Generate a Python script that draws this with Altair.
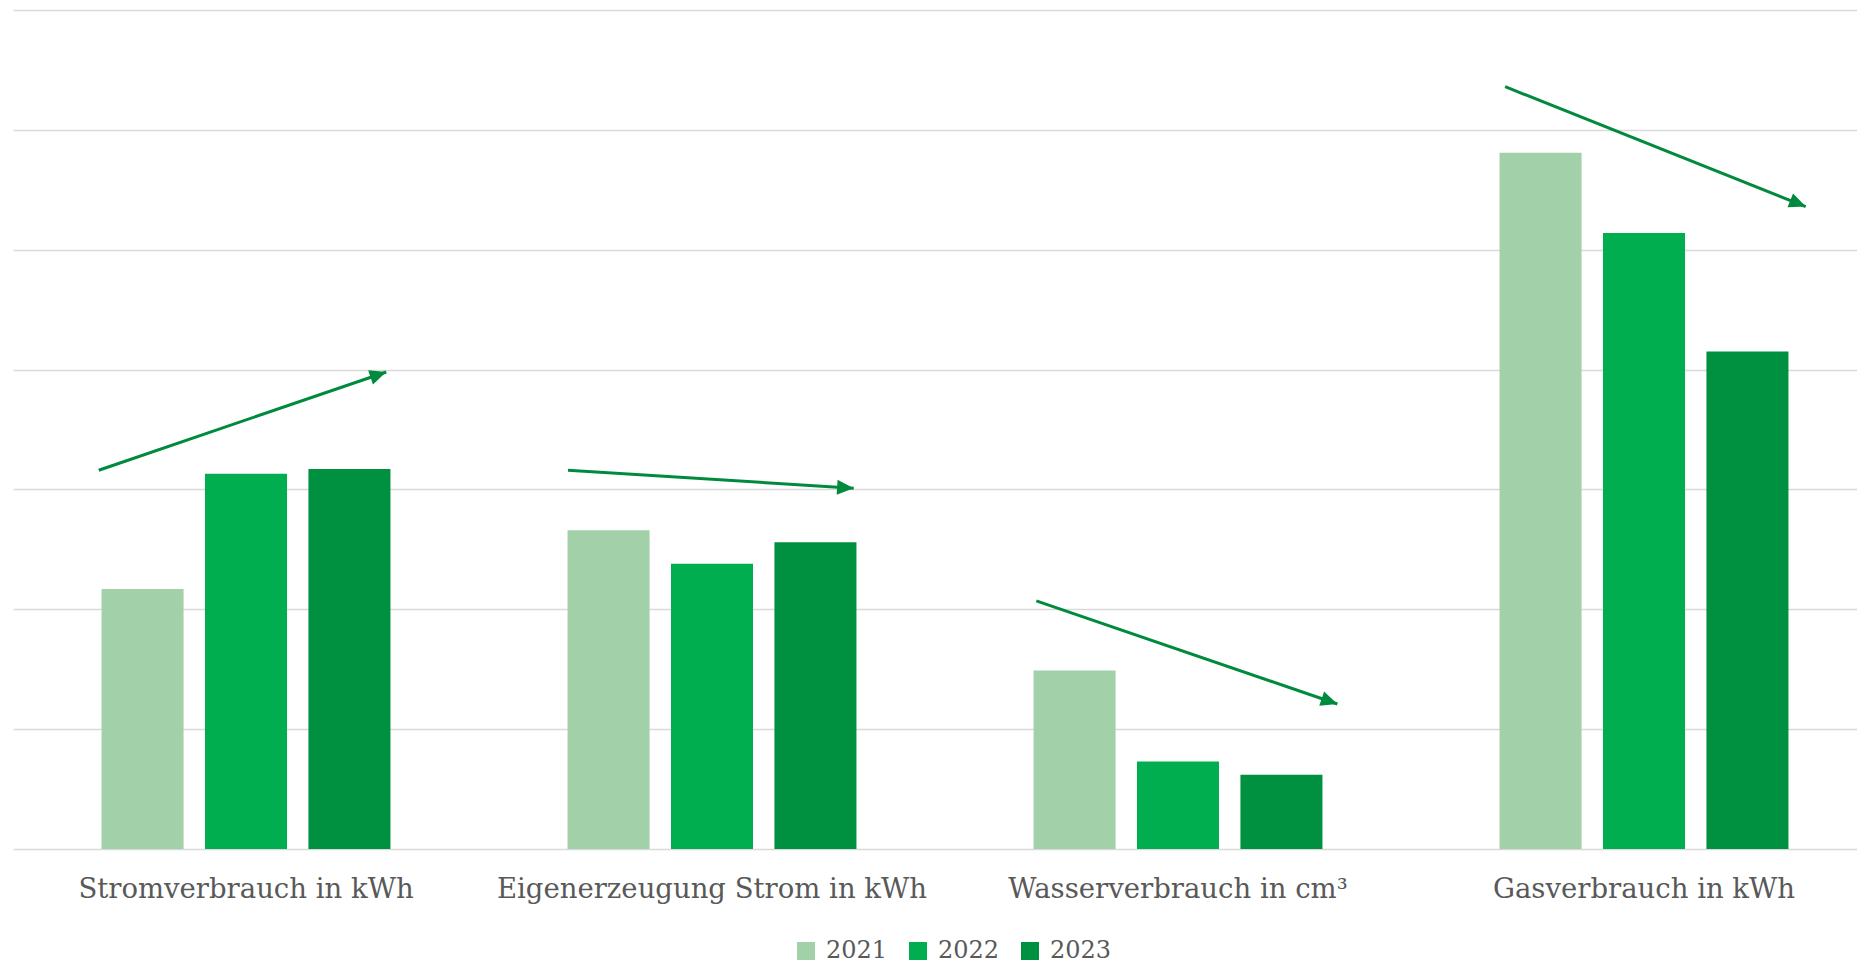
import altair as alt
import pandas as pd

categories = ["Stromverbrauch in kWh", "Eigenerzeugung Strom in kWh",
              "Wasserverbrauch in cm³", "Gasverbrauch in kWh"]
years = ["2021", "2022", "2023"]
v2021 = [2.17, 2.66, 1.49, 5.81]
v2022 = [3.13, 2.38, 0.73, 5.14]
v2023 = [3.17, 2.56, 0.62, 4.15]
colors = ["#A2D0A9", "#00AE50", "#009140"]

# trend arrows (x in category units: band i spans [i, i+1])
arrow_x_start = [0.184, 1.191, 2.196, 3.202]
arrow_x_end = [0.801, 1.804, 2.842, 3.847]
arrow_y_start = [3.16, 3.16, 2.07, 6.36]
arrow_y_end = [3.98, 3.01, 1.21, 5.36]
arrow_color = "#008A3E"

W = 1844
H = 839
XR = 1864
YMAX = 7
FONT = "DejaVu Serif"
TXT = "#595959"

rows = []
for i, c in enumerate(categories):
    for y, vals in zip(years, [v2021, v2022, v2023]):
        rows.append({"cat": c, "year": y, "value": vals[i]})
bars_df = pd.DataFrame(rows)

arrows_df = pd.DataFrame({
    "x0": arrow_x_start, "x1": arrow_x_end,
    "y0": arrow_y_start, "y1": arrow_y_end,
})

yscale = alt.Scale(domain=[0, YMAX], nice=False, zero=True)
yaxis = alt.Axis(title=None, labels=False, ticks=False, domain=False,
                 grid=True, values=list(range(0, YMAX + 1)),
                 gridColor="#D9D9D9", gridWidth=1.5)
xq = alt.Scale(domain=[0, 4], range=[0, XR], nice=False, zero=False)

bars = alt.Chart(bars_df).mark_bar().encode(
    x=alt.X("cat:N", sort=categories,
            scale=alt.Scale(range=[0, XR], paddingInner=0, paddingOuter=0),
            axis=alt.Axis(title=None, labelAngle=0, ticks=False, domain=False,
                          labelFont=FONT, labelFontSize=27.5, labelColor=TXT,
                          labelPadding=26, labelLimit=0, grid=False)),
    xOffset=alt.XOffset("year:N", sort=years,
                        scale=alt.Scale(paddingInner=0.207, paddingOuter=0.856)),
    y=alt.Y("value:Q", scale=yscale, axis=yaxis),
    color=alt.Color("year:N", sort=years,
                    scale=alt.Scale(domain=years, range=colors),
                    legend=alt.Legend(title=None, orient="none", direction="horizontal",
                                      legendX=781, legendY=929,
                                      symbolType="square", symbolSize=324,
                                      symbolStrokeWidth=0, labelFont=FONT,
                                      labelFontSize=24, labelColor=TXT,
                                      labelOffset=8, columnPadding=18)),
)

rules = alt.Chart(arrows_df).mark_rule(color=arrow_color, strokeWidth=3).encode(
    x=alt.X("x0:Q", scale=xq, axis=None),
    x2="x1:Q",
    y=alt.Y("y0:Q", scale=yscale, axis=yaxis),
    y2="y1:Q",
)

heads = alt.Chart(arrows_df).transform_calculate(
    dxp=f"(datum.x1 - datum.x0) * {XR / 4}",
    dyp=f"(datum.y1 - datum.y0) * {H / YMAX}",
).transform_calculate(
    ang="(atan2(datum.dxp, datum.dyp) * 180 / PI + 360) % 360"
).mark_point(
    shape="M0,0 L-0.45,1 L0.45,1 Z", filled=True, size=1100,
    color=arrow_color, opacity=1, strokeWidth=0,
).encode(
    x=alt.X("x1:Q", scale=xq, axis=None),
    y=alt.Y("y1:Q", scale=yscale, axis=yaxis),
    angle=alt.Angle("ang:Q", scale=None),
)

chart = alt.layer(bars, rules, heads).resolve_scale(x="independent").properties(
    width=W, height=H,
    padding={"left": 5, "top": 2, "right": 0, "bottom": 115},
    autosize=alt.AutoSizeParams(type="none"),
).configure_view(stroke=None)

chart.save("out.html", embed_options={"renderer": "svg", "actions": False})
